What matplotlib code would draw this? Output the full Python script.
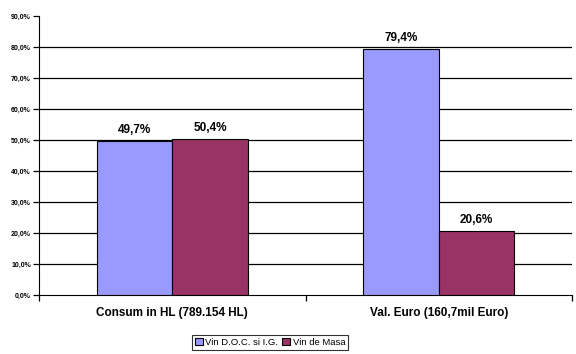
import numpy as np
import matplotlib.pyplot as plt

plt.rcParams["font.family"] = ["Liberation Sans", "DejaVu Sans"]

categories = ["Consum in HL (789.154 HL)", "Val. Euro (160,7mil Euro)"]
series_names = ["Vin D.O.C. si I.G.", "Vin de Masa"]
doc_values = [49.7, 79.4]
masa_values = [50.4, 20.6]
colors = ["#9999FF", "#993366"]
yticks = np.arange(0, 91, 10)

fig = plt.figure(figsize=(5.76, 3.54), dpi=100)
ax = fig.add_axes([0.068, 0.167, 0.925, 0.788])

x = np.arange(len(categories))
w = 0.283
for i, (vals, name, col) in enumerate(zip([doc_values, masa_values], series_names, colors)):
    pos = x + (i - 0.5) * w
    ax.bar(pos, vals, w, color=col, edgecolor="black", linewidth=0.8, label=name, zorder=3)
    for p, v in zip(pos, vals):
        ax.text(p, v + 1.5, f"{v:.1f}%".replace(".", ","), ha="center", va="bottom",
                fontsize=8.5, fontweight="bold")

for t in yticks[1:-1]:
    ax.axhline(t, color="black", linewidth=0.9, zorder=1)

ax.set_xlim(-0.5, 1.5)
ax.set_ylim(0, 90)
ax.set_yticks(yticks)
ax.set_yticklabels([f"{t:.1f}%".replace(".", ",") for t in yticks], fontsize=5, fontweight="bold")
ax.set_xticks([-0.5, 0.5, 1.5])
ax.set_xticklabels([])
ax.set_xticks(x, minor=True)
ax.set_xticklabels(categories, minor=True, fontsize=8.5, fontweight="bold")
ax.tick_params(axis="x", which="minor", length=0, pad=9)
ax.tick_params(axis="x", which="major", length=4, width=0.9)
ax.tick_params(axis="y", length=4, width=0.9, pad=2)
ax.spines["top"].set_visible(False)
ax.spines["right"].set_visible(False)

leg = fig.legend(loc="lower center", bbox_to_anchor=(0.469, 0.012), ncol=2, fontsize=6.8,
                 frameon=True, fancybox=False, edgecolor="black", handlelength=0.8,
                 handleheight=0.8, handletextpad=0.3, columnspacing=0.4, borderpad=0.3,
                 borderaxespad=0)
leg.get_frame().set_linewidth(0.8)

fig.savefig("out.png", dpi=100)
